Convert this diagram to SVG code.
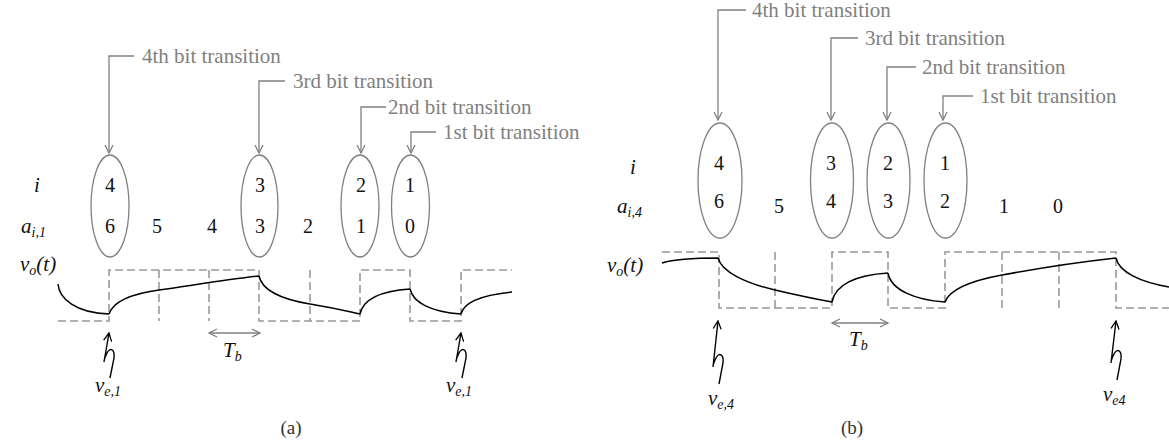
<svg xmlns="http://www.w3.org/2000/svg" width="1169" height="445" viewBox="0 0 1169 445">
<defs>
<marker id="ga" viewBox="0 0 10 10" refX="9" refY="5" markerWidth="10" markerHeight="10" markerUnits="userSpaceOnUse" orient="auto-start-reverse"><path d="M1,1 L9,5 L1,9" fill="none" stroke="#808080" stroke-width="1.3"/></marker>
<marker id="ka" viewBox="0 0 10 10" refX="9" refY="5" markerWidth="10" markerHeight="10" markerUnits="userSpaceOnUse" orient="auto"><path d="M1,1 L9,5 L1,9" fill="none" stroke="#000" stroke-width="1.3"/></marker>
</defs>
<style>
.ann{font-family:"Liberation Serif","DejaVu Serif",serif;font-size:21px;fill:#808080}
.num{font-family:"Liberation Serif","DejaVu Serif",serif;font-size:20px;fill:#111;text-anchor:middle}
.mi{font-family:"Liberation Serif","DejaVu Serif",serif;font-size:21px;font-style:italic;fill:#111}
.sub{font-size:14px}
.cap{font-family:"Liberation Serif","DejaVu Serif",serif;font-size:19px;fill:#333;text-anchor:middle}
.ell{fill:none;stroke:#808080;stroke-width:1.3}
.gl{fill:none;stroke:#808080;stroke-width:1.3}
.dash{fill:none;stroke:#999;stroke-width:1.6;stroke-dasharray:8,4}
.wave{fill:none;stroke:#000;stroke-width:1.5}
.zig{fill:none;stroke:#000;stroke-width:1.4}
</style>
<rect width="1169" height="445" fill="#fff"/>

<!-- Panel (a) -->
<g id="a-labels">
<text class="mi" x="34" y="192">i</text>
<text class="mi" x="21" y="233">a<tspan class="sub" dy="4">i,1</tspan></text>
<text class="mi" x="20" y="271">v<tspan class="sub" dy="4">o</tspan><tspan dy="-4">(t)</tspan></text>
</g>
<g id="a-node4"><ellipse class="ell" cx="110" cy="206" rx="19" ry="51"/><text class="num" x="110" y="192">4</text><text class="num" x="110" y="233">6</text></g>
<g id="a-node3"><ellipse class="ell" cx="259.5" cy="206" rx="18.5" ry="51"/><text class="num" x="260" y="192">3</text><text class="num" x="260" y="233">3</text></g>
<g id="a-node2"><ellipse class="ell" cx="360" cy="206" rx="19" ry="51"/><text class="num" x="361" y="192">2</text><text class="num" x="361" y="233">1</text></g>
<g id="a-node1"><ellipse class="ell" cx="410.5" cy="206" rx="19" ry="51"/><text class="num" x="410" y="192">1</text><text class="num" x="410" y="233">0</text></g>
<g id="a-values"><text class="num" x="157" y="233">5</text><text class="num" x="212" y="233">4</text><text class="num" x="308" y="233">2</text></g>
<g id="a-ann">
<text class="ann" x="142" y="63">4th bit transition</text>
<text class="ann" x="293" y="88">3rd bit transition</text>
<text class="ann" x="388" y="114">2nd bit transition</text>
<text class="ann" x="443" y="139">1st bit transition</text>
</g>
<g id="a-signal">
<polyline class="dash" points="58,321 109,321 109,270 259,270 259,321 360,321 360,270 410,270 410,321 461,321 461,270 512,270"/>
<path class="dash" d="M159,270 V321 M209,270 V321 M310,270 V321"/>
<path class="wave" d="M58,284 C59,298 75,313 109,314 M109,314 C113,302 130,294 159,290 S230,279 259,276 M259,276 C262,290 280,299 310,304 S350,312 360,314 M360,314 C363,300 380,291 410,289 M410,289 C413,302 430,312 461,314 M461,314 C464,302 482,295 512,292"/>
</g>
<g id="a-tb"><text class="mi" x="223" y="357">T<tspan class="sub" dy="4">b</tspan></text></g>
<g id="a-ve1"><text class="mi" x="95" y="392">v<tspan class="sub" dy="4">e,1</tspan></text></g>
<g id="a-ve2"><text class="mi" x="446" y="392">v<tspan class="sub" dy="4">e,1</tspan></text></g>
<g id="a-cap"><text class="cap" x="291" y="434">(a)</text></g>

<!-- Panel (b) -->
<g id="b-labels">
<text class="mi" x="630" y="174">i</text>
<text class="mi" x="617" y="213">a<tspan class="sub" dy="4">i,4</tspan></text>
<text class="mi" x="607" y="272">v<tspan class="sub" dy="4">o</tspan><tspan dy="-4">(t)</tspan></text>
</g>
<g id="b-node4"><ellipse class="ell" cx="720" cy="180.5" rx="22" ry="57.5"/><text class="num" x="719" y="170">4</text><text class="num" x="719" y="208">6</text></g>
<g id="b-node3"><ellipse class="ell" cx="832" cy="180.5" rx="21.5" ry="57.5"/><text class="num" x="831" y="170">3</text><text class="num" x="831" y="208">4</text></g>
<g id="b-node2"><ellipse class="ell" cx="888.5" cy="180.5" rx="21.5" ry="57.5"/><text class="num" x="888" y="170">2</text><text class="num" x="888" y="208">3</text></g>
<g id="b-node1"><ellipse class="ell" cx="945.5" cy="180.5" rx="21.5" ry="57.5"/><text class="num" x="945" y="170">1</text><text class="num" x="945" y="208">2</text></g>
<g id="b-values"><text class="num" x="779" y="213">5</text><text class="num" x="1004" y="213">1</text><text class="num" x="1058" y="213">0</text></g>
<g id="b-ann">
<text class="ann" x="752" y="17">4th bit transition</text>
<text class="ann" x="865" y="45">3rd bit transition</text>
<text class="ann" x="922" y="74">2nd bit transition</text>
<text class="ann" x="980" y="103">1st bit transition</text>
</g>
<g id="b-signal">
<polyline class="dash" points="662,252 719,252 719,308 832,308 832,252 888,252 888,308 945,308 945,252 1116,252 1116,308 1169,308"/>
<path class="dash" d="M775,252 V308 M1002,252 V308 M1059,252 V308"/>
<path class="wave" d="M662,263 C675,259 690,258 718,258 M718,258 C722,272 745,283 775,290 S815,299 832,302 M832,302 C835,285 855,275 888,273 M888,273 C891,290 915,300 945,302 M945,302 C950,288 975,280 1002,275 S1080,262 1116,258 M1116,258 C1119,272 1140,282 1169,287"/>
</g>
<g id="b-tb"><text class="mi" x="849" y="346">T<tspan class="sub" dy="4">b</tspan></text></g>
<g id="b-ve4"><text class="mi" x="708" y="405">v<tspan class="sub" dy="4">e,4</tspan></text></g>
<g id="b-ve4r"><text class="mi" x="1103" y="401">v<tspan class="sub" dy="4">e4</tspan></text></g>
<g id="b-cap"><text class="cap" x="852" y="434">(b)</text></g>

<!-- Connectors -->
<g id="connectors">
<polyline class="gl" points="134,56 109,56 109,153" marker-end="url(#ga)"/>
<polyline class="gl" points="285,81 259,81 259,153" marker-end="url(#ga)"/>
<polyline class="gl" points="386,107 361,107 361,153" marker-end="url(#ga)"/>
<polyline class="gl" points="436,132 411,132 411,153" marker-end="url(#ga)"/>
<line class="gl" x1="209" y1="333" x2="260" y2="333" marker-start="url(#ga)" marker-end="url(#ga)"/>
<path class="zig" d="M110,378 L114,358 C115,349 110,347 107,353 C105,357 104,361 104,362 L109,333" marker-end="url(#ka)"/>
<path class="zig" d="M462,378 L466,358 C467,349 462,347 459,353 C457,357 456,361 456,362 L461,333" marker-end="url(#ka)"/>

<polyline class="gl" points="746,10 718,10 718,120" marker-end="url(#ga)"/>
<polyline class="gl" points="858,38 831,38 831,120" marker-end="url(#ga)"/>
<polyline class="gl" points="916,67 887,67 887,120" marker-end="url(#ga)"/>
<polyline class="gl" points="973,96 943,96 943,120" marker-end="url(#ga)"/>
<line class="gl" x1="832" y1="323" x2="888" y2="323" marker-start="url(#ga)" marker-end="url(#ga)"/>
<path class="zig" d="M719,384 L723,363 C724,354 719,352 716,358 C714,362 713,366 713,367 L718,321" marker-end="url(#ka)"/>
<path class="zig" d="M1117,380 L1121,359 C1122,350 1117,348 1114,354 C1112,358 1111,362 1111,363 L1116,321" marker-end="url(#ka)"/>
</g>
</svg>
